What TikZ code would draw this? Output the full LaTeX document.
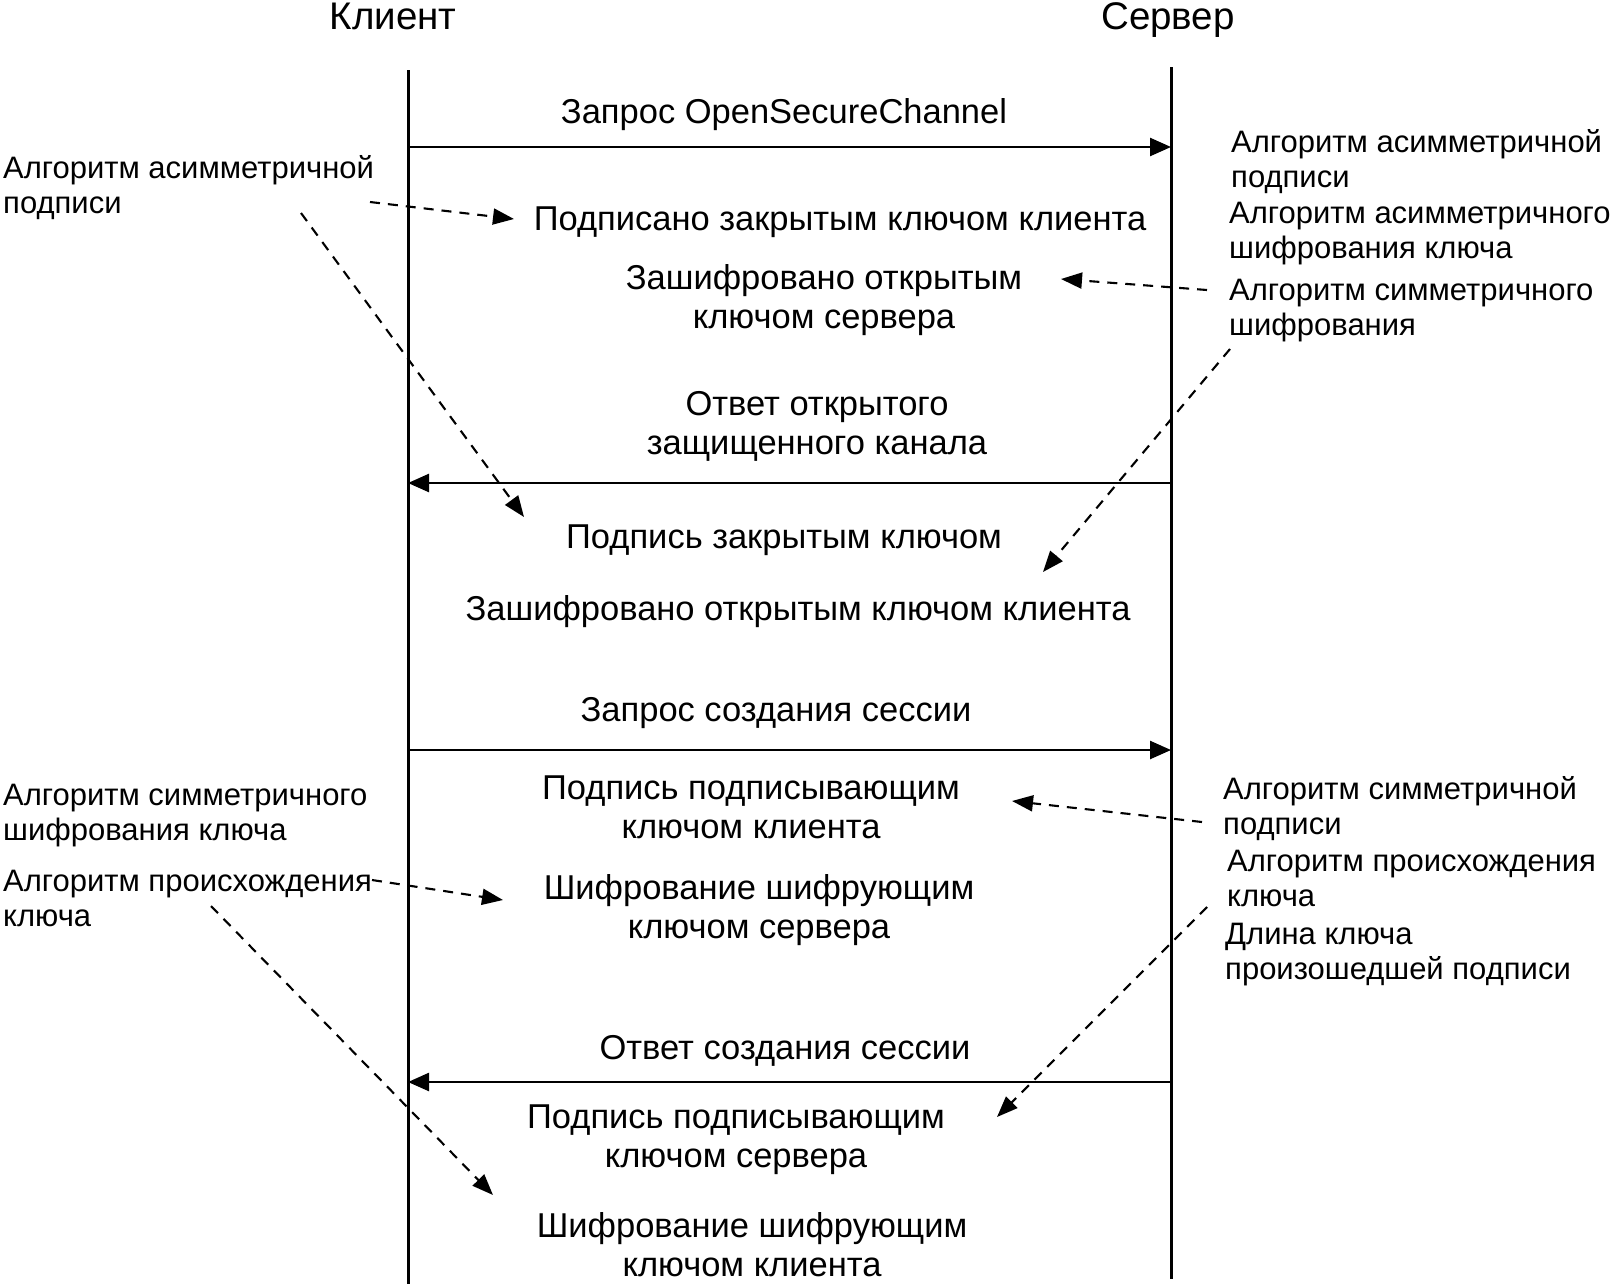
\documentclass[tikz,border=0pt]{standalone}
\usepackage{fontspec}
\setmainfont{Liberation Sans}
\usetikzlibrary{arrows.meta}
\begin{document}
\begin{tikzpicture}[x=1pt,y=-1pt,
 lbl/.style={font=\fontsize{34.5}{39}\selectfont, align=center, inner sep=0pt},
 ann/.style={font=\fontsize{31}{35}\selectfont, align=left, anchor=west, inner sep=0pt},
 ttl/.style={font=\fontsize{38.5}{44}\selectfont, inner sep=0pt, anchor=base},
 life/.style={line width=3pt},
 msg/.style={line width=2.5pt, -{Triangle[length=21pt,width=18pt]}},
 note/.style={line width=2.1pt, dash pattern=on 10pt off 8pt, -{Triangle[length=21pt,width=16pt]}}]
\useasboundingbox[fill=white] (0,0) rectangle (1611,1285);

% titles
\node[ttl] (tc) at (393,29) {Клиент};
\node[ttl] (ts) at (1168,29) {Сервер};

% lifelines
\coordinate (ctop) at (408,70);
\coordinate (cbot) at (408,1284);
\coordinate (stop) at (1171,67);
\coordinate (sbot) at (1171,1279);
\draw[life] (ctop) -- (cbot);
\draw[life] (stop) -- (sbot);

% message endpoints
\coordinate (c1) at (408,147);  \coordinate (s1) at (1171,147);
\coordinate (c2) at (408,483);  \coordinate (s2) at (1171,483);
\coordinate (c3) at (408,750);  \coordinate (s3) at (1171,750);
\coordinate (c4) at (408,1082); \coordinate (s4) at (1171,1082);
\draw[msg] (c1) -- (s1);
\draw[msg] (s2) -- (c2);
\draw[msg] (c3) -- (s3);
\draw[msg] (s4) -- (c4);

% centre labels
\node[lbl] (m1) at (784,115) {Запрос OpenSecureChannel};
\node[lbl] (l1) at (840,222) {Подписано закрытым ключом клиента};
\node[lbl] (l2) at (824,300) {Зашифровано открытым\\ключом сервера};
\node[lbl] (m2) at (817,426) {Ответ открытого\\защищенного канала};
\node[lbl] (l3) at (784,540) {Подпись закрытым ключом};
\node[lbl] (l4) at (798,612) {Зашифровано открытым ключом клиента};
\node[lbl] (m3) at (776,713) {Запрос создания сессии};
\node[lbl] (l5) at (751,807) {Подпись подписывающим\\ключом клиента};
\node[lbl] (l6) at (759,910) {Шифрование шифрующим\\ключом сервера};
\node[lbl] (m4) at (785,1051) {Ответ создания сессии};
\node[lbl] (l7) at (736,1140) {Подпись подписывающим\\ключом сервера};
\node[lbl] (l8) at (752,1245) {Шифрование шифрующим\\ключом клиента};

% left annotations
\node[ann] (a1) at (3,188) {Алгоритм асимметричной\\подписи};
\node[ann] (a2) at (3,816) {Алгоритм симметричного\\шифрования ключа};
\node[ann] (a3) at (3,898) {Алгоритм происхождения\\ключа};

% right annotations
\node[ann] (b1) at (1231,162) {Алгоритм асимметричной\\подписи};
\node[ann] (b2) at (1229,234) {Алгоритм асимметричного\\шифрования ключа};
\node[ann] (b3) at (1229,311) {Алгоритм симметричного\\шифрования};
\node[ann] (b4) at (1223,809) {Алгоритм симметричной\\подписи};
\node[ann] (b5) at (1227,878) {Алгоритм происхождения\\ключа};
\node[ann] (b6) at (1225,955) {Длина ключа\\произошедшей подписи};

% dashed annotation connectors
\coordinate (p1s) at (370,202);  \coordinate (p1e) at (514,219);
\coordinate (p2s) at (301,213);  \coordinate (p2e) at (524,517);
\coordinate (p3s) at (1207,290); \coordinate (p3e) at (1061,279);
\coordinate (p4s) at (1230,349); \coordinate (p4e) at (1043,572);
\coordinate (p5s) at (1202,822); \coordinate (p5e) at (1012,801);
\coordinate (p6s) at (372,880);  \coordinate (p6e) at (503,900);
\coordinate (p7s) at (211,906);  \coordinate (p7e) at (493,1195);
\coordinate (p8s) at (1207,907); \coordinate (p8e) at (997,1117);
\draw[note] (p1s) -- (p1e);
\draw[note] (p2s) -- (p2e);
\draw[note] (p3s) -- (p3e);
\draw[note] (p4s) -- (p4e);
\draw[note] (p5s) -- (p5e);
\draw[note] (p6s) -- (p6e);
\draw[note] (p7s) -- (p7e);
\draw[note] (p8s) -- (p8e);
\end{tikzpicture}
\end{document}
